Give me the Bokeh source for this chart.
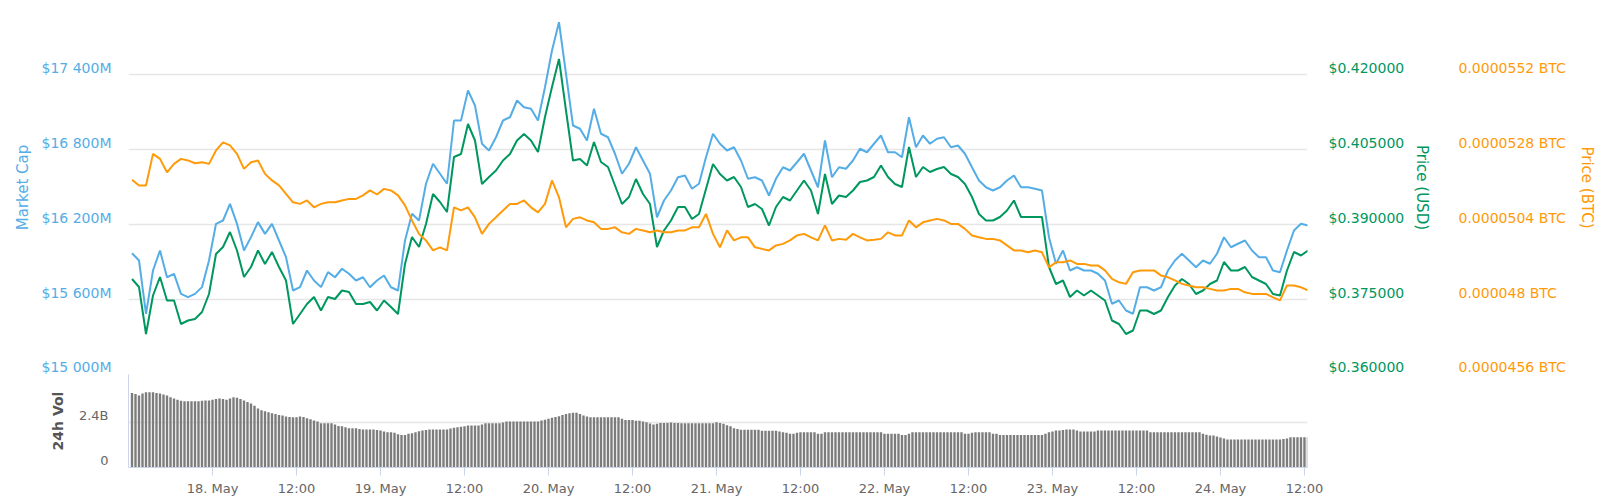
import pandas as pd
from datetime import datetime
from bokeh.plotting import figure
from bokeh.models import Range1d, LinearAxis, FixedTicker, Grid
from bokeh.layouts import column
from bokeh.embed import file_html
from bokeh.resources import INLINE

# ---------------- data ----------------
times = pd.date_range("2019-05-17 12:30", periods=169, freq="h")
vol_times = pd.date_range("2019-05-17 12:30", periods=337, freq="30min")

market_cap_m = [
    15970, 15912, 15485, 15832, 15992, 15778, 15805, 15645, 15619, 15645, 15699, 15912,
    16205, 16232, 16365, 16205, 15992, 16099, 16219, 16125, 16205, 16072, 15939, 15672,
    15699, 15832, 15752, 15699, 15819,
    15778, 15846, 15806, 15752, 15778, 15698, 15752, 15792, 15698, 15672, 16072, 16286,
    16232, 16526, 16686, 16606, 16526, 17032, 17032, 17272, 17152, 16846, 16792, 16898,
    17032, 17058, 17192, 17138,
    17126, 17032, 17298, 17592, 17818, 17406, 16992, 16966, 16872, 17126, 16926, 16898,
    16766, 16606, 16686, 16818, 16712, 16606, 16258, 16392, 16472, 16578, 16592, 16486,
    16526, 16738, 16926, 16846, 16792, 16818, 16712, 16566, 16578, 16552, 16432, 16566,
    16658,
    16632, 16698, 16766, 16632, 16498, 16872, 16578, 16658, 16646, 16712, 16806, 16778,
    16846, 16912, 16778, 16778, 16738, 17058, 16818, 16912, 16846, 16886, 16898, 16818,
    16832, 16766, 16658, 16552, 16498, 16472, 16498, 16552, 16592, 16498, 16498, 16486,
    16472,
    16098, 15886, 15992, 15832, 15858, 15832, 15832, 15806, 15752, 15566, 15592, 15512,
    15486, 15698, 15698, 15672, 15698, 15832, 15912, 15966, 15912, 15858, 15912, 15886,
    15966, 16098, 16018, 16046, 16072, 15992, 15938, 15938, 15832, 15818, 15992, 16152,
    16206, 16192,
]

price_usd = [
    0.3791, 0.3775, 0.3681, 0.3758, 0.3795, 0.3748, 0.3748, 0.3701, 0.3708, 0.3711, 0.3725, 0.3761,
    0.3841, 0.3855, 0.3885, 0.3848, 0.3795, 0.3815, 0.3848, 0.3821, 0.3845, 0.3815, 0.3788, 0.3701,
    0.3721, 0.3741, 0.3755, 0.3728, 0.3755,
    0.3751, 0.3768, 0.3765, 0.3741, 0.3741, 0.3745, 0.3728, 0.3748, 0.3735, 0.3721, 0.3821, 0.3875,
    0.3855, 0.3901, 0.3961, 0.3945, 0.3925, 0.4035, 0.4041, 0.4101, 0.4068, 0.3981, 0.3995, 0.4008,
    0.4028, 0.4041, 0.4068, 0.4081,
    0.4068, 0.4045, 0.4115, 0.4175, 0.4231, 0.4128, 0.4028, 0.4031, 0.4018, 0.4065, 0.4025, 0.4015,
    0.3978, 0.3941, 0.3955, 0.3991, 0.3961, 0.3941, 0.3855, 0.3888, 0.3908, 0.3935, 0.3935, 0.3911,
    0.3921, 0.3971, 0.4021, 0.4001, 0.3988, 0.3995, 0.3975, 0.3935, 0.3941, 0.3931, 0.3898, 0.3935,
    0.3955,
    0.3948, 0.3968, 0.3988, 0.3968, 0.3921, 0.4001, 0.3941, 0.3958, 0.3955, 0.3968, 0.3985, 0.3988,
    0.3995, 0.4018, 0.3995, 0.3981, 0.3975, 0.4055, 0.3995, 0.4015, 0.4005, 0.4011, 0.4015, 0.4001,
    0.3995, 0.3981, 0.3955, 0.3921, 0.3908, 0.3908, 0.3915, 0.3928, 0.3948, 0.3915, 0.3915, 0.3915,
    0.3915,
    0.3815, 0.3781, 0.3788, 0.3755, 0.3768, 0.3758, 0.3768, 0.3758, 0.3748, 0.3708, 0.3701, 0.3681,
    0.3688, 0.3728, 0.3728, 0.3721, 0.3728, 0.3755, 0.3778, 0.3791, 0.3781, 0.3761, 0.3768, 0.3781,
    0.3788, 0.3825, 0.3808, 0.3808, 0.3815, 0.3795, 0.3788, 0.3781, 0.3761, 0.3758, 0.3808, 0.3845,
    0.3838, 0.3848,
]

price_btc = [
    5.183e-5, 5.165e-5, 5.165e-5, 5.266e-5, 5.250e-5, 5.207e-5, 5.234e-5, 5.250e-5, 5.245e-5, 5.236e-5,
    5.239e-5, 5.234e-5, 5.277e-5, 5.303e-5, 5.293e-5, 5.266e-5, 5.218e-5, 5.239e-5, 5.245e-5, 5.202e-5,
    5.181e-5, 5.165e-5, 5.138e-5, 5.111e-5, 5.106e-5, 5.117e-5, 5.095e-5, 5.106e-5, 5.111e-5,
    5.111e-5, 5.117e-5, 5.122e-5, 5.122e-5, 5.133e-5, 5.149e-5, 5.136e-5, 5.154e-5, 5.149e-5, 5.133e-5,
    5.101e-5, 5.053e-5, 5.010e-5, 4.989e-5, 4.957e-5, 4.967e-5, 4.957e-5, 5.095e-5, 5.085e-5, 5.095e-5,
    5.063e-5, 5.010e-5, 5.042e-5, 5.063e-5, 5.085e-5, 5.106e-5, 5.106e-5, 5.117e-5,
    5.095e-5, 5.079e-5, 5.106e-5, 5.181e-5, 5.127e-5, 5.031e-5, 5.058e-5, 5.063e-5, 5.053e-5, 5.047e-5,
    5.026e-5, 5.026e-5, 5.031e-5, 5.015e-5, 5.010e-5, 5.026e-5, 5.021e-5, 5.015e-5, 5.021e-5, 5.015e-5,
    5.015e-5, 5.021e-5, 5.021e-5, 5.031e-5, 5.031e-5, 5.074e-5, 5.010e-5, 4.967e-5, 5.021e-5, 4.989e-5,
    4.999e-5, 4.999e-5, 4.967e-5, 4.962e-5, 4.957e-5, 4.973e-5, 4.978e-5,
    4.989e-5, 5.005e-5, 5.010e-5, 4.999e-5, 4.989e-5, 5.037e-5, 4.989e-5, 4.994e-5, 4.991e-5, 5.010e-5,
    4.999e-5, 4.989e-5, 4.991e-5, 4.994e-5, 5.015e-5, 5.005e-5, 5.005e-5, 5.053e-5, 5.031e-5, 5.047e-5,
    5.053e-5, 5.058e-5, 5.053e-5, 5.042e-5, 5.042e-5, 5.026e-5, 5.005e-5, 4.999e-5, 4.994e-5, 4.994e-5,
    4.989e-5, 4.973e-5, 4.957e-5, 4.957e-5, 4.951e-5, 4.957e-5, 4.951e-5,
    4.903e-5, 4.919e-5, 4.919e-5, 4.925e-5, 4.914e-5, 4.914e-5, 4.909e-5, 4.909e-5, 4.893e-5, 4.866e-5,
    4.855e-5, 4.850e-5, 4.887e-5, 4.893e-5, 4.893e-5, 4.893e-5, 4.877e-5, 4.871e-5, 4.861e-5, 4.850e-5,
    4.845e-5, 4.839e-5, 4.839e-5, 4.834e-5, 4.829e-5, 4.829e-5, 4.834e-5, 4.834e-5, 4.823e-5, 4.818e-5,
    4.818e-5, 4.818e-5, 4.807e-5, 4.797e-5, 4.845e-5, 4.845e-5, 4.839e-5, 4.829e-5,
]

volume_b = [
    3.98, 3.92, 3.84, 3.95, 4.02, 4.02, 4.02, 3.98, 3.95, 3.90, 3.84, 3.75,
    3.68, 3.62, 3.56, 3.54, 3.54, 3.54, 3.54, 3.54, 3.56, 3.57, 3.57, 3.62,
    3.66, 3.68, 3.65, 3.62, 3.68, 3.75, 3.72, 3.65, 3.57, 3.50, 3.41, 3.30,
    3.15, 3.05, 3.00, 2.95, 2.90, 2.85, 2.80, 2.77, 2.72, 2.70, 2.68, 2.68,
    2.72, 2.70, 2.63, 2.58, 2.51, 2.45, 2.36, 2.36, 2.36, 2.36, 2.30, 2.22,
    2.20, 2.15, 2.10, 2.10, 2.10, 2.05, 2.03, 2.03, 2.03, 2.03, 2.00, 1.97,
    1.92, 1.88, 1.88, 1.85, 1.78, 1.74, 1.74, 1.80, 1.83, 1.88, 1.94, 1.97,
    2.00, 2.03, 2.03, 2.03, 2.03, 2.03, 2.03, 2.08, 2.12, 2.15, 2.18, 2.20,
    2.24, 2.24, 2.24, 2.24, 2.30, 2.36, 2.36, 2.36, 2.36, 2.36, 2.40, 2.45,
    2.45, 2.45, 2.45, 2.45, 2.45, 2.45, 2.45, 2.45, 2.45, 2.51, 2.55, 2.60,
    2.65, 2.70, 2.74, 2.80, 2.86, 2.90, 2.92, 2.92, 2.85, 2.77, 2.72, 2.68,
    2.68, 2.68, 2.68, 2.68, 2.68, 2.68, 2.68, 2.68, 2.60, 2.54, 2.54, 2.54,
    2.49, 2.49, 2.45, 2.42, 2.35, 2.29, 2.33, 2.38, 2.38, 2.38, 2.40, 2.38,
    2.38, 2.36, 2.36, 2.36, 2.36, 2.36, 2.36, 2.36, 2.36, 2.36, 2.36, 2.42,
    2.38, 2.33, 2.25, 2.20, 2.10, 2.05, 2.01, 2.01, 2.01, 2.01, 2.01, 2.01,
    1.96, 1.96, 1.96, 1.96, 1.96, 1.92, 1.88, 1.85, 1.80, 1.80, 1.85, 1.88,
    1.88, 1.88, 1.88, 1.88, 1.80, 1.80, 1.88, 1.88, 1.88, 1.88, 1.88, 1.88,
    1.88, 1.88, 1.88, 1.88, 1.88, 1.88, 1.88, 1.88, 1.88, 1.88, 1.88, 1.80,
    1.80, 1.80, 1.80, 1.80, 1.74, 1.74, 1.80, 1.88, 1.88, 1.88, 1.88, 1.88,
    1.88, 1.88, 1.88, 1.88, 1.88, 1.88, 1.88, 1.88, 1.88, 1.88, 1.80, 1.80,
    1.85, 1.88, 1.88, 1.88, 1.88, 1.88, 1.80, 1.80, 1.74, 1.74, 1.74, 1.74,
    1.74, 1.74, 1.74, 1.74, 1.74, 1.74, 1.74, 1.74, 1.74, 1.80, 1.88, 1.92,
    1.97, 1.97, 2.00, 2.03, 2.03, 2.03, 1.97, 1.92, 1.92, 1.92, 1.92, 1.92,
    1.97, 1.97, 1.97, 1.97, 1.97, 1.97, 1.97, 1.97, 1.97, 1.97, 1.97, 1.97,
    1.97, 1.97, 1.97, 1.88, 1.88, 1.88, 1.88, 1.88, 1.88, 1.88, 1.88, 1.88,
    1.88, 1.88, 1.88, 1.88, 1.88, 1.88, 1.80, 1.75, 1.71, 1.71, 1.65, 1.60,
    1.55, 1.49, 1.49, 1.49, 1.49, 1.49, 1.49, 1.49, 1.49, 1.49, 1.49, 1.49,
    1.49, 1.49, 1.49, 1.49, 1.49, 1.52, 1.55, 1.62, 1.62, 1.62, 1.62, 1.62,
    1.62,
]

mc_ticks = [15000, 15600, 16200, 16800, 17400]
mc_labels = ["$15 000M", "$15 600M", "$16 200M", "$16 800M", "$17 400M"]
usd_ticks = [0.36, 0.375, 0.39, 0.405, 0.42]
usd_labels = ["$0.360000", "$0.375000", "$0.390000", "$0.405000", "$0.420000"]
btc_ticks = [0.0000456, 0.0000480, 0.0000504, 0.0000528, 0.0000552]
btc_labels = ["0.0000456 BTC", "0.000048 BTC", "0.0000504 BTC", "0.0000528 BTC", "0.0000552 BTC"]
vol_ticks = [0.0, 2.4]
vol_labels = ["0", "2.4B"]
x_tick_times = pd.date_range("2019-05-18 00:00", periods=14, freq="12h")
x_tick_labels = ["18. May", "12:00", "19. May", "12:00", "20. May", "12:00", "21. May",
                 "12:00", "22. May", "12:00", "23. May", "12:00", "24. May", "12:00"]

# ---------------- style / layout ----------------
BLUE = "#55ade6"
GREEN = "#00975f"
ORANGE = "#ff9a0a"
GRID = "#e6e6e6"
AXIS = "#ccd6eb"
FONT = "DejaVu Sans"

W = 1600
LEFT = 128
RIGHT = 293
MAIN_H = 374
VOL_H = 93
BOTTOM = 31
LIFT = 7  # px: labels sit above their grid line

mc_range = Range1d(15000, 15000 + MAIN_H * 8)
usd_range = Range1d(0.36, 0.36 + MAIN_H * 0.0002)
btc_range = Range1d(0.0000456, 0.0000456 + MAIN_H * 0.000000032)
vol_range = Range1d(0, VOL_H * 2.4 / 45)
x_range = Range1d(start=datetime(2019, 5, 17, 12, 0), end=datetime(2019, 5, 24, 12, 26))


def lifted(ticks, rng, frame_h):
    d = LIFT * (rng.end - rng.start) / frame_h
    return [t + d for t in ticks]


def style_y_axis(ax, color, standoff, title_standoff, size="14px"):
    ax.axis_line_color = None
    ax.major_tick_line_color = None
    ax.minor_tick_line_color = None
    ax.major_tick_in = 0
    ax.major_tick_out = 0
    ax.major_label_text_color = color
    ax.major_label_text_font = FONT
    ax.major_label_text_font_size = size
    ax.major_label_standoff = standoff
    ax.axis_label_text_color = color
    ax.axis_label_text_font = FONT
    ax.axis_label_text_font_size = "15px"
    ax.axis_label_text_font_style = "normal"
    ax.axis_label_standoff = title_standoff


p1 = figure(width=W, height=MAIN_H, x_range=x_range, y_range=mc_range,
            x_axis_location=None, y_axis_location=None,
            output_backend="svg", toolbar_location=None,
            min_border_left=LEFT, min_border_right=RIGHT,
            min_border_top=0, min_border_bottom=0)
p1.outline_line_color = None
p1.grid.visible = False
p1.extra_y_ranges = {"usd": usd_range, "btc": btc_range}

p1.add_layout(Grid(dimension=1, ticker=FixedTicker(ticks=mc_ticks),
                   grid_line_color=GRID, grid_line_width=1.5))

mc_pos = lifted(mc_ticks, mc_range, MAIN_H)
ax_mc = LinearAxis(ticker=FixedTicker(ticks=mc_pos),
                   major_label_overrides=dict(zip(mc_pos, mc_labels)),
                   axis_label="Market Cap")
style_y_axis(ax_mc, BLUE, 17, 7)
p1.add_layout(ax_mc, "left")

usd_pos = lifted(usd_ticks, usd_range, MAIN_H)
ax_usd = LinearAxis(y_range_name="usd", ticker=FixedTicker(ticks=usd_pos),
                    major_label_overrides=dict(zip(usd_pos, usd_labels)),
                    axis_label="Price (USD)")
style_y_axis(ax_usd, GREEN, 21, 6)
p1.add_layout(ax_usd, "right")

btc_pos = lifted(btc_ticks, btc_range, MAIN_H)
ax_btc = LinearAxis(y_range_name="btc", ticker=FixedTicker(ticks=btc_pos),
                    major_label_overrides=dict(zip(btc_pos, btc_labels)),
                    axis_label="Price (BTC)")
style_y_axis(ax_btc, ORANGE, 24, 9)
p1.add_layout(ax_btc, "right")

p1.line(times, market_cap_m, line_color=BLUE, line_width=2)
p1.line(times, price_usd, y_range_name="usd", line_color=GREEN, line_width=2)
p1.line(times, price_btc, y_range_name="btc", line_color=ORANGE, line_width=2)

# ---------------- volume panel ----------------
p2 = figure(width=W, height=VOL_H + BOTTOM, x_range=x_range, y_range=vol_range,
            x_axis_location=None, y_axis_location=None,
            output_backend="svg", toolbar_location=None,
            min_border_left=LEFT, min_border_right=RIGHT,
            min_border_top=0, min_border_bottom=BOTTOM)
p2.outline_line_color = None
p2.grid.visible = False
p2.add_layout(Grid(dimension=1, ticker=FixedTicker(ticks=[vol_ticks[1]]),
                   grid_line_color=GRID, grid_line_width=1.5))

p2.vbar(x=vol_times, top=volume_b, bottom=0, width=30 * 60 * 1000 * 0.68,
        fill_color="#7c7c7c", line_color=None)

vol_pos = lifted(vol_ticks, vol_range, VOL_H)
ax_vol = LinearAxis(ticker=FixedTicker(ticks=vol_pos),
                    major_label_overrides=dict(zip(vol_pos, vol_labels)),
                    axis_label="24h Vol")
style_y_axis(ax_vol, "#666666", 20, 10, size="13px")
ax_vol.axis_line_color = AXIS
ax_vol.axis_line_width = 1
ax_vol.axis_label_text_color = "#555555"
ax_vol.axis_label_text_font_size = "14px"
ax_vol.axis_label_text_font_style = "bold"
p2.add_layout(ax_vol, "left")

epoch = pd.Timestamp("1970-01-01")
x_tick_ms = [float((t - epoch) // pd.Timedelta("1ms")) for t in x_tick_times]
ax_x = LinearAxis(ticker=FixedTicker(ticks=x_tick_ms),
                  major_label_overrides=dict(zip(x_tick_ms, x_tick_labels)))
ax_x.axis_line_color = AXIS
ax_x.major_tick_line_color = AXIS
ax_x.minor_tick_line_color = None
ax_x.major_tick_in = 0
ax_x.major_tick_out = 8
ax_x.major_label_standoff = 5
ax_x.major_label_text_color = "#666666"
ax_x.major_label_text_font = FONT
ax_x.major_label_text_font_size = "13px"
p2.add_layout(ax_x, "below")

layout = column(p1, p2, spacing=0)
open("out.html", "w").write(file_html(layout, INLINE, title="chart"))
